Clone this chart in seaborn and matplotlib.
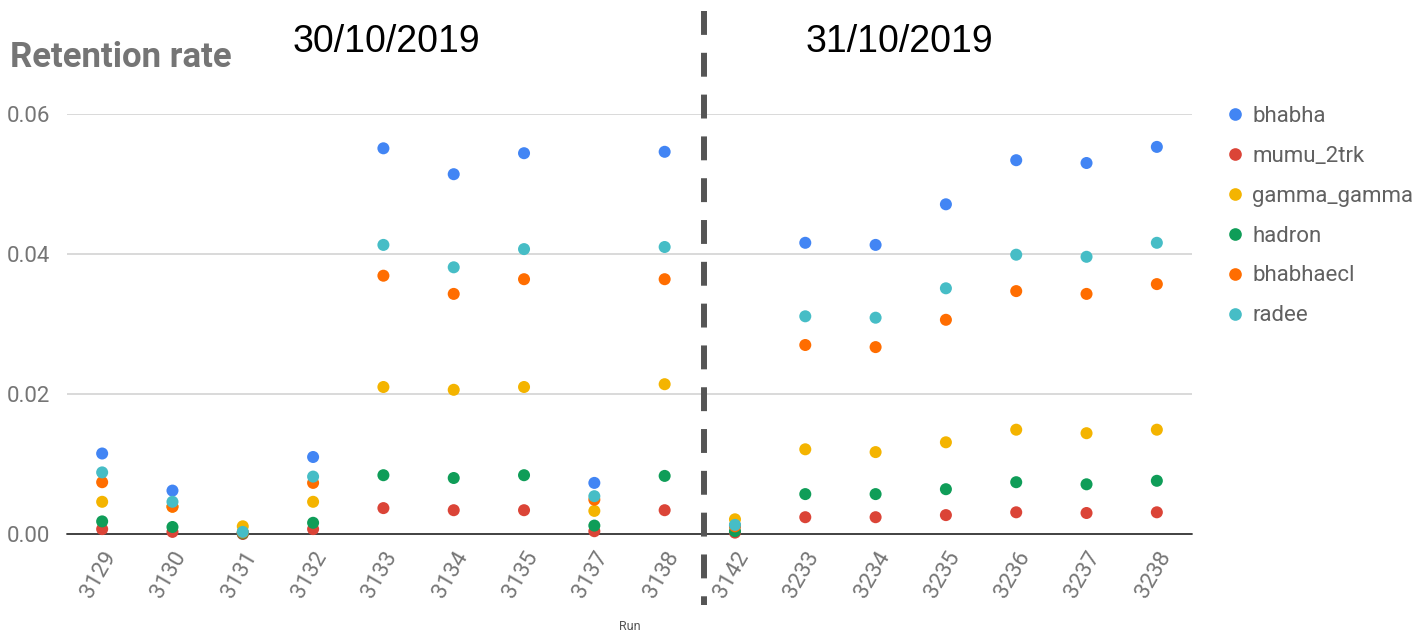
import matplotlib
matplotlib.use("Agg")
import matplotlib.pyplot as plt
from matplotlib.lines import Line2D
import pandas as pd
import seaborn as sns

# run numbers on the x axis
runs = ["3129", "3130", "3131", "3132", "3133", "3134", "3135", "3137",
        "3138", "3142", "3233", "3234", "3235", "3236", "3237", "3238"]

# retention rate per trigger line
bhabha = [0.0115, 0.0062, 0.0002, 0.0110, 0.0551, 0.0514, 0.0544, 0.0073,
          0.0546, 0.0012, 0.0416, 0.0413, 0.0471, 0.0534, 0.0530, 0.0553]
mumu_2trk = [0.0007, 0.0003, 0.0000, 0.0007, 0.0037, 0.0034, 0.0034, 0.0004,
             0.0034, 0.0002, 0.0024, 0.0024, 0.0027, 0.0031, 0.0030, 0.0031]
gamma_gamma = [0.0046, 0.0039, 0.0011, 0.0046, 0.0210, 0.0206, 0.0210, 0.0033,
               0.0214, 0.0021, 0.0121, 0.0117, 0.0131, 0.0149, 0.0144, 0.0149]
hadron = [0.0018, 0.0010, 0.0001, 0.0016, 0.0084, 0.0080, 0.0084, 0.0012,
          0.0083, 0.0004, 0.0057, 0.0057, 0.0064, 0.0074, 0.0071, 0.0076]
bhabhaecl = [0.0074, 0.0039, 0.0002, 0.0073, 0.0369, 0.0343, 0.0364, 0.0049,
             0.0364, 0.0011, 0.0270, 0.0267, 0.0306, 0.0347, 0.0343, 0.0357]
radee = [0.0088, 0.0046, 0.0003, 0.0082, 0.0413, 0.0381, 0.0407, 0.0054,
         0.0410, 0.0013, 0.0311, 0.0309, 0.0351, 0.0399, 0.0396, 0.0416]

triggers = ["bhabha", "mumu_2trk", "gamma_gamma", "hadron", "bhabhaecl", "radee"]
colors = ["#4285F4", "#DB4437", "#F4B400", "#0F9D58", "#FF6D00", "#46BDC6"]
dates = ["30/10/2019", "31/10/2019"]

df = pd.DataFrame({"Run": runs, "bhabha": bhabha, "mumu_2trk": mumu_2trk,
                   "gamma_gamma": gamma_gamma, "hadron": hadron,
                   "bhabhaecl": bhabhaecl, "radee": radee})
long = df.melt(id_vars="Run", var_name="trigger", value_name="rate")

sns.set_style("white")
plt.rcParams["font.family"] = ["Roboto", "DejaVu Sans"]

fig = plt.figure(figsize=(14.27, 6.35), dpi=100)
W, H = 1427, 635
ax = fig.add_axes([67 / W, (H - 534) / H, (1192 - 67) / W, (534 - 114) / H])

sns.scatterplot(data=long, x="Run", y="rate", hue="trigger", hue_order=triggers,
                palette=colors, s=75, linewidth=0, ax=ax, zorder=3)
for c in ax.collections:
    c.set_clip_on(False)

ax.set_xlim(-0.5, len(runs) - 0.5)
ax.set_ylim(0, 0.06)
ax.set_yticks([0, 0.02, 0.04, 0.06])
ax.set_yticklabels(["0.00", "0.02", "0.04", "0.06"])
for yv in [0.02, 0.04, 0.06]:
    ax.axhline(yv, color="#d0d0d0", lw=1.1, zorder=1)
ax.axhline(0, color="#333333", lw=1.3, zorder=2, clip_on=False)
for s in ax.spines.values():
    s.set_visible(False)

ax.tick_params(axis="both", length=0, colors="#757575", labelsize=16)
ax.tick_params(axis="y", pad=12)
ax.tick_params(axis="x", pad=10)
plt.setp(ax.get_xticklabels(), rotation=60, ha="right", rotation_mode="anchor")
ax.set_xlabel("")
ax.set_ylabel("")
fig.text(629.5 / W, (H - 627) / H, "Run", fontsize=9, color="#555555",
         ha="center", va="center")

# legend on the right
handles, labels = ax.get_legend_handles_labels()
ax.legend(handles, labels, loc="upper left", frameon=False,
          bbox_to_anchor=(1204 / W, (H - 97) / H), bbox_transform=fig.transFigure,
          fontsize=16, labelcolor="#616161", labelspacing=0.85,
          handletextpad=-0.23, markerscale=1.05, borderaxespad=0)

fig.text(10 / W, (H - 67) / H, "Retention rate", fontsize=25, fontweight="bold",
         color="#757575", ha="left", va="baseline")
fig.text(293 / W, (H - 52) / H, dates[0], fontsize=27, color="black",
         family="Liberation Sans", ha="left", va="baseline")
fig.text(806 / W, (H - 52) / H, dates[1], fontsize=27, color="black",
         family="Liberation Sans", ha="left", va="baseline")

# dashed separator between the two days
sep = Line2D([704 / W, 704 / W], [(H - 11) / H, (H - 605) / H],
             transform=fig.transFigure, color="#555555", lw=4.3,
             dashes=(4, 3), solid_capstyle="butt", dash_capstyle="butt", zorder=5)
fig.add_artist(sep)

fig.savefig("out.png", dpi=100)
